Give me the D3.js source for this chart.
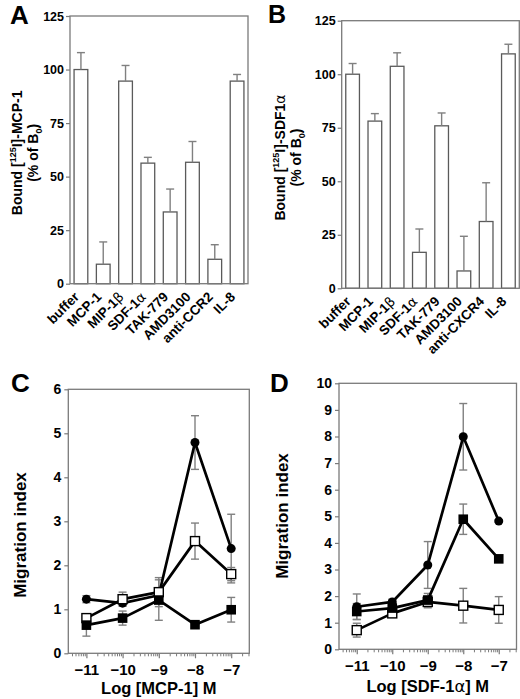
<!DOCTYPE html>
<html><head><meta charset="utf-8">
<script src="https://cdn.jsdelivr.net/npm/d3@7/dist/d3.min.js"></script>
<style>
body{margin:0;background:#fff}
svg{display:block}
text{font-family:"Liberation Sans",Arial,Helvetica,sans-serif;font-weight:bold;fill:#000}
</style>
</head><body>
<svg id="chart" width="520" height="699"></svg>
<script>
// ---------- data ----------
const barCategoriesA = ["buffer","MCP-1","MIP-1β","SDF-1α","TAK-779","AMD3100","anti-CCR2","IL-8"];
const barValuesA = [100, 9.1, 94.6, 56.3, 33.5, 56.7, 11.4, 94.6];
const barErrorsA = [7.9, 10.4, 7.3, 2.7, 10.7, 9.7, 6.8, 3.1];

const barCategoriesB = ["buffer","MCP-1","MIP-1β","SDF-1α","TAK-779","AMD3100","anti-CXCR4","IL-8"];
const barValuesB = [100, 78.1, 103.7, 16.8, 75.9, 8.1, 31.2, 109.5];
const barErrorsB = [5.0, 3.5, 6.3, 10.9, 6.0, 16.2, 18.1, 4.5];

const barTicks = [0, 25, 50, 75, 100, 125];

const logConc = [-11, -10, -9, -8, -7];

const cCircle      = [1.23, 1.14, 1.32, 4.79, 2.38];
const cCircleErr   = [0.08, 0.06, 0.10, 0.61, 0.78];
const cOpenSq      = [0.80, 1.23, 1.39, 2.55, 1.80];
const cOpenSqErr   = [0.10, 0.16, 0.33, 0.41, 0.15];
const cFilledSq    = [0.64, 0.80, 1.21, 0.65, 0.99];
const cFilledSqErr = [0.25, 0.16, 0.46, 0.05, 0.28];
const cTicksY = [0, 1, 2, 3, 4, 5, 6];

const dCircle      = [1.60, 1.78, 3.17, 7.99, 4.82];
const dCircleErr   = [0.48, 0.10, 0.88, 1.25, 0.05];
const dFilledSq    = [1.42, 1.55, 1.85, 4.89, 3.40];
const dFilledSqErr = [0.30, 0.10, 0.25, 0.57, 0.05];
const dOpenSq      = [0.72, 1.35, 1.78, 1.64, 1.48];
const dOpenSqErr   = [0.26, 0.10, 0.22, 0.65, 0.50];
const dTicksY = [0, 1, 2, 3, 4, 5, 6, 7, 8, 9, 10];

// ---------- drawing ----------
const svg = d3.select("#chart");
const FRAME = "#7a7a7a";
const ERR = "#808080";

function addGreekText(sel, str) {
  const parts = str.split(/([α-ωΑ-Ω])/).filter(s => s.length);
  parts.forEach(p => {
    const t = sel.append("tspan").text(p);
    if (/[α-ωΑ-Ω]/.test(p)) t.style("font-weight", "normal").style("font-family", "'DejaVu Sans',sans-serif");
  });
}

function barPanel(opt) {
  const g = svg.append("g");
  const x = d3.scaleBand().domain(opt.cats).range([opt.x0, opt.x1]).paddingInner(0.34).paddingOuter(0.16);
  const y = d3.scaleLinear().domain([0, 125]).range([opt.y1, opt.y0]);

  const ya = g.append("g").attr("transform", `translate(${opt.x0},0)`)
    .call(d3.axisLeft(y).tickValues(barTicks).tickSize(4).tickPadding(2));
  ya.select(".domain").remove();
  ya.selectAll("line").attr("stroke", FRAME).attr("stroke-width", 1.2);
  ya.selectAll("text").style("font-size", "12.5px").attr("font-family", null);

  g.selectAll("rect.bar").data(opt.vals).join("rect")
    .attr("x", (d, i) => x(opt.cats[i]) + 0.5)
    .attr("y", d => y(d))
    .attr("width", x.bandwidth() - 1)
    .attr("height", d => y(0) - y(d))
    .attr("fill", "#fff").attr("stroke", "#5a5a5a").attr("stroke-width", 1.3);

  const eb = g.append("g").attr("stroke", ERR).attr("stroke-width", 1.4);
  opt.vals.forEach((v, i) => {
    const cx = x(opt.cats[i]) + x.bandwidth() / 2;
    eb.append("line").attr("x1", cx).attr("x2", cx).attr("y1", y(v)).attr("y2", y(v + opt.errs[i]));
    eb.append("line").attr("x1", cx - 4).attr("x2", cx + 4).attr("y1", y(v + opt.errs[i])).attr("y2", y(v + opt.errs[i]));
  });

  g.append("rect").attr("x", opt.x0).attr("y", opt.y0).attr("width", opt.x1 - opt.x0).attr("height", opt.y1 - opt.y0)
    .attr("fill", "none").attr("stroke", FRAME).attr("stroke-width", 1.3);

  opt.cats.forEach(c => {
    const cx = x(c) + x.bandwidth() / 2;
    const t = g.append("text").attr("text-anchor", "end").style("font-size", "13.5px")
      .attr("transform", `translate(${cx - 1},${opt.y1 + 14}) rotate(-45)`);
    addGreekText(t, c);
  });

  const tx = opt.titleX, ty = (opt.y0 + opt.y1) / 2 + 3;
  const t1 = g.append("text").attr("text-anchor", "middle").style("font-size", "14px")
    .attr("transform", `translate(${tx},${ty}) rotate(-90)`);
  t1.append("tspan").text("Bound [");
  t1.append("tspan").text("125").style("font-size", "9px").attr("dy", -6);
  t1.append("tspan").text("I]-" + opt.ligand[0]).attr("dy", 6);
  if (opt.ligand[1]) t1.append("tspan").text(opt.ligand[1]).style("font-weight", "normal").style("font-family", "'DejaVu Sans',sans-serif");
  const t2 = g.append("text").attr("text-anchor", "middle").style("font-size", "14px")
    .attr("transform", `translate(${tx + 16},${ty}) rotate(-90)`);
  t2.append("tspan").text("(% of B");
  t2.append("tspan").text("0").style("font-size", "9px").attr("dy", 4);
  t2.append("tspan").text(")").attr("dy", -4);

  g.append("text").attr("x", opt.letterX).attr("y", opt.letterY).style("font-size", opt.letterSize || "26px").text(opt.letter);
}

function linePanel(opt) {
  const g = svg.append("g");
  const x = d3.scaleLinear().domain([-11.5, -6.5]).range([opt.x0, opt.x1]);
  const y = d3.scaleLinear().domain([0, opt.ymax]).range([opt.y1, opt.y0]);

  const ya = g.append("g").attr("transform", `translate(${opt.x0},0)`)
    .call(d3.axisLeft(y).tickValues(opt.yticks).tickSize(4).tickPadding(3).tickFormat(d3.format("d")));
  ya.select(".domain").remove();
  ya.selectAll("line").attr("stroke", FRAME).attr("stroke-width", 1.2);
  ya.selectAll("text").style("font-size", "14px").attr("font-family", null);

  const minor = [];
  for (let n = -12; n <= -7; n++) for (let k = 2; k <= 9; k++) {
    const v = n + Math.log10(k);
    if (v >= -11.5 && v <= -6.5) minor.push(v);
  }
  const xm = g.append("g").attr("transform", `translate(0,${opt.y1})`)
    .call(d3.axisBottom(x).tickValues(minor).tickSize(3).tickFormat(""));
  xm.select(".domain").remove();
  xm.selectAll("line").attr("stroke", FRAME).attr("stroke-width", 1);
  const xa = g.append("g").attr("transform", `translate(0,${opt.y1})`)
    .call(d3.axisBottom(x).tickValues(logConc).tickSize(5).tickPadding(6).tickFormat(d3.format("d")));
  xa.select(".domain").remove();
  xa.selectAll("line").attr("stroke", FRAME).attr("stroke-width", 1.2);
  xa.selectAll("text").style("font-size", "15px").attr("font-family", null);

  g.append("rect").attr("x", opt.x0).attr("y", opt.y0).attr("width", opt.x1 - opt.x0).attr("height", opt.y1 - opt.y0)
    .attr("fill", "none").attr("stroke", FRAME).attr("stroke-width", 1.3);

  const eb = g.append("g").attr("stroke", ERR).attr("stroke-width", 1.4);
  opt.series.forEach(s => {
    s.vals.forEach((v, i) => {
      const cx = x(logConc[i]), lo = y(v - s.errs[i]), hi = y(v + s.errs[i]);
      eb.append("line").attr("x1", cx).attr("x2", cx).attr("y1", lo).attr("y2", hi);
      eb.append("line").attr("x1", cx - 4).attr("x2", cx + 4).attr("y1", lo).attr("y2", lo);
      eb.append("line").attr("x1", cx - 4).attr("x2", cx + 4).attr("y1", hi).attr("y2", hi);
    });
  });

  const line = d3.line().x((d, i) => x(logConc[i])).y(d => y(d));
  opt.series.forEach(s => {
    g.append("path").datum(s.vals).attr("d", line).attr("fill", "none")
      .attr("stroke", "#000").attr("stroke-width", 2.7).attr("stroke-linejoin", "round");
  });

  opt.series.forEach(s => {
    s.vals.forEach((v, i) => {
      const cx = x(logConc[i]), cy = y(v);
      if (s.shape === "circle") {
        g.append("circle").attr("cx", cx).attr("cy", cy).attr("r", 4.5).attr("fill", "#000");
      } else if (s.shape === "open") {
        g.append("rect").attr("x", cx - 4.5).attr("y", cy - 4.5).attr("width", 9).attr("height", 9)
          .attr("fill", "#fff").attr("stroke", "#000").attr("stroke-width", 1.4);
      } else {
        g.append("rect").attr("x", cx - 4.8).attr("y", cy - 4.8).attr("width", 9.6).attr("height", 9.6).attr("fill", "#000");
      }
    });
  });

  g.append("text").attr("text-anchor", "middle").style("font-size", "17px")
    .attr("transform", `translate(${opt.titleX},${opt.titleY}) rotate(-90)`).text("Migration index");
  const xt = g.append("text").attr("text-anchor", "middle").style("font-size", "16.5px")
    .attr("x", (opt.x0 + opt.x1) / 2).attr("y", opt.xTitleY);
  addGreekText(xt, opt.xTitle);

  g.append("text").attr("x", opt.letterX).attr("y", opt.letterY).style("font-size", "26px").text(opt.letter);
}

barPanel({cats: barCategoriesA, vals: barValuesA, errs: barErrorsA, x0: 70, x1: 248, y0: 16, y1: 283.7,
  ligand: ["MCP-1"], titleX: 22, letter: "A", letterX: 10, letterY: 24});
barPanel({cats: barCategoriesB, vals: barValuesB, errs: barErrorsB, x0: 341.7, x1: 519.3, y0: 20.7, y1: 288.3,
  ligand: ["SDF1", "α"], titleX: 285, letter: "B", letterX: 268, letterY: 23, letterSize: "25px"});

linePanel({x0: 68.3, x1: 249.3, y0: 389.3, y1: 653.3, ymax: 6, yticks: cTicksY,
  series: [
    {shape: "circle", vals: cCircle, errs: cCircleErr},
    {shape: "open", vals: cOpenSq, errs: cOpenSqErr},
    {shape: "filled", vals: cFilledSq, errs: cFilledSqErr}
  ],
  titleX: 26, titleY: 535, xTitle: "Log [MCP-1] M", xTitleY: 694, letter: "C", letterX: 11, letterY: 392});

linePanel({x0: 339, x1: 516.5, y0: 383.3, y1: 649.3, ymax: 10, yticks: dTicksY,
  series: [
    {shape: "circle", vals: dCircle, errs: dCircleErr},
    {shape: "open", vals: dOpenSq, errs: dOpenSqErr},
    {shape: "filled", vals: dFilledSq, errs: dFilledSqErr}
  ],
  titleX: 288, titleY: 516, xTitle: "Log [SDF-1α] M", xTitleY: 692, letter: "D", letterX: 270, letterY: 392});
</script>
</body></html>
